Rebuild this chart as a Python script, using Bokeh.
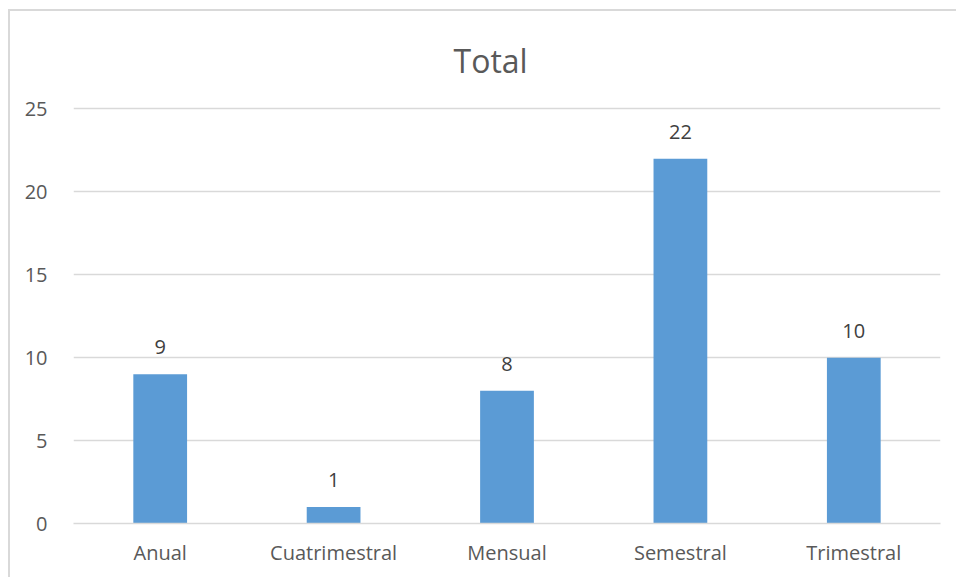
from bokeh.plotting import figure
from bokeh.models import ColumnDataSource, FixedTicker, Range1d, LabelSet
from bokeh.core.properties import value
from bokeh.embed import file_html
from bokeh.resources import INLINE

categories = ["Anual", "Cuatrimestral", "Mensual", "Semestral", "Trimestral"]
values = [9, 1, 8, 22, 10]
y_ticks = [0, 5, 10, 15, 20, 25]
title_text = "Total"

FONT = "Open Sans"
src = ColumnDataSource(data=dict(cat=categories, val=values, lbl=[str(v) for v in values]))

p = figure(x_range=categories, y_range=Range1d(0, 25.15), width=948, height=568,
           output_backend="svg", toolbar_location=None,
           min_border_left=63, min_border_right=18, min_border_top=95, min_border_bottom=56)
p.styles = {"margin-left": "8px", "margin-top": "9px",
            "border-left": "2px solid #d9d9d9", "border-top": "2px solid #d9d9d9"}

p.title.text = title_text
p.title.align = "left"
p.title.offset = 380
p.title.standoff = 50
p.title.text_font = FONT
p.title.text_font_size = "32px"
p.title.text_font_style = "normal"
p.title.text_color = "#595959"

p.vbar(x="cat", top="val", width=0.31, source=src, color="#5b9bd5", line_color=None)

labels = LabelSet(x="cat", y="val", text="lbl", source=src, text_align="center",
                  text_baseline="bottom", y_offset=20, text_font_size="20px",
                  text_color="#404040", text_font=value(FONT))
p.add_layout(labels)

p.outline_line_color = None
p.xgrid.grid_line_color = None
p.ygrid.grid_line_color = "#d9d9d9"
p.ygrid.grid_line_width = 1.5
p.yaxis.ticker = FixedTicker(ticks=y_ticks)
p.yaxis.axis_line_color = None
p.yaxis.major_tick_line_color = None
p.yaxis.minor_tick_line_color = None
p.yaxis.major_label_text_font = FONT
p.yaxis.major_label_text_font_size = "20px"
p.yaxis.major_label_text_color = "#595959"
p.yaxis.major_label_standoff = 20

p.xaxis.axis_line_color = "#d9d9d9"
p.xaxis.axis_line_width = 1.5
p.xaxis.major_tick_line_color = None
p.xaxis.minor_tick_line_color = None
p.xaxis.major_label_text_font = FONT
p.xaxis.major_label_text_font_size = "20px"
p.xaxis.major_label_text_color = "#595959"
p.xaxis.major_label_standoff = 9
p.x_range.range_padding = 0

open("out.html", "w").write(file_html(p, INLINE))
